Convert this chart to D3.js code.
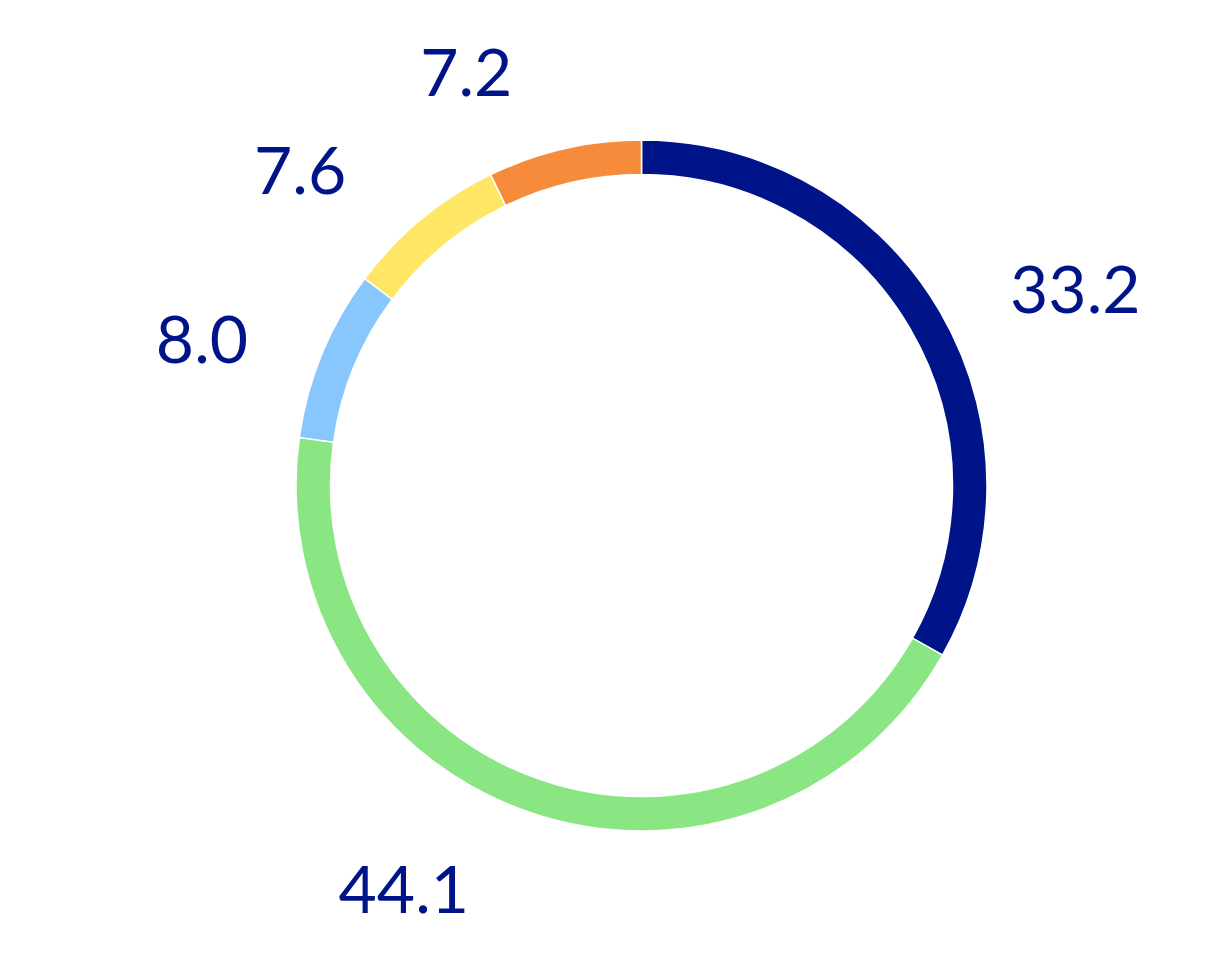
<!DOCTYPE html>
<html>
<head>
<meta charset="utf-8">
<script src="https://cdn.jsdelivr.net/npm/d3@7"></script>
<style>
  html, body { margin: 0; padding: 0; background: #fff; }
  svg { display: block; }
</style>
</head>
<body>
<svg id="chart" width="1206" height="972"></svg>
<script>
// segment values, clockwise from 12 o'clock
const VALUES = [33.2, 44.1, 8.0, 7.6, 7.2];
const LABELS = ['33.2', '44.1', '8.0', '7.6', '7.2'];
const COLORS = ['#001489', '#8ae682', '#87c7fd', '#ffe664', '#f68b3b'];

// hand-tuned label nudges (px) away from the label arc centroid
const LABEL_NUDGE = [[28, 41], [-87, -41], [-5, 33], [-42, 47], [-70, 45]];

const WIDTH = 1206;
const HEIGHT = 972;
const CX = 641.5;
const CY = 485.5;
const OUTER = 345.5;
const INNER = 311;
const LABEL_R = 470;
const TEXT_COLOR = '#001489';

const svg = d3.select('#chart');
const g = svg.append('g').attr('transform', `translate(${CX},${CY})`);

const pie = d3.pie().sort(null).value(d => d);
const arcs = pie(VALUES);

const arc = d3.arc().innerRadius(INNER).outerRadius(OUTER);
const labelArc = d3.arc().innerRadius(LABEL_R).outerRadius(LABEL_R);

g.selectAll('path')
    .data(arcs)
    .enter()
    .append('path')
        .attr('d', arc)
        .style('fill', (d, i) => COLORS[i])
        .style('stroke', '#fff')
        .style('stroke-width', 1.5);

g.selectAll('text')
    .data(arcs)
    .enter()
    .append('text')
        .attr('x', (d, i) => labelArc.centroid(d)[0] + LABEL_NUDGE[i][0])
        .attr('y', (d, i) => labelArc.centroid(d)[1] + LABEL_NUDGE[i][1])
        .attr('dy', '0.36em')
        .attr('text-anchor', 'middle')
        .style('font-family', 'Lato, "Noto Sans", sans-serif')
        .style('font-size', '66px')
        .style('fill', TEXT_COLOR)
        .text((d, i) => LABELS[i]);
</script>
</body>
</html>
